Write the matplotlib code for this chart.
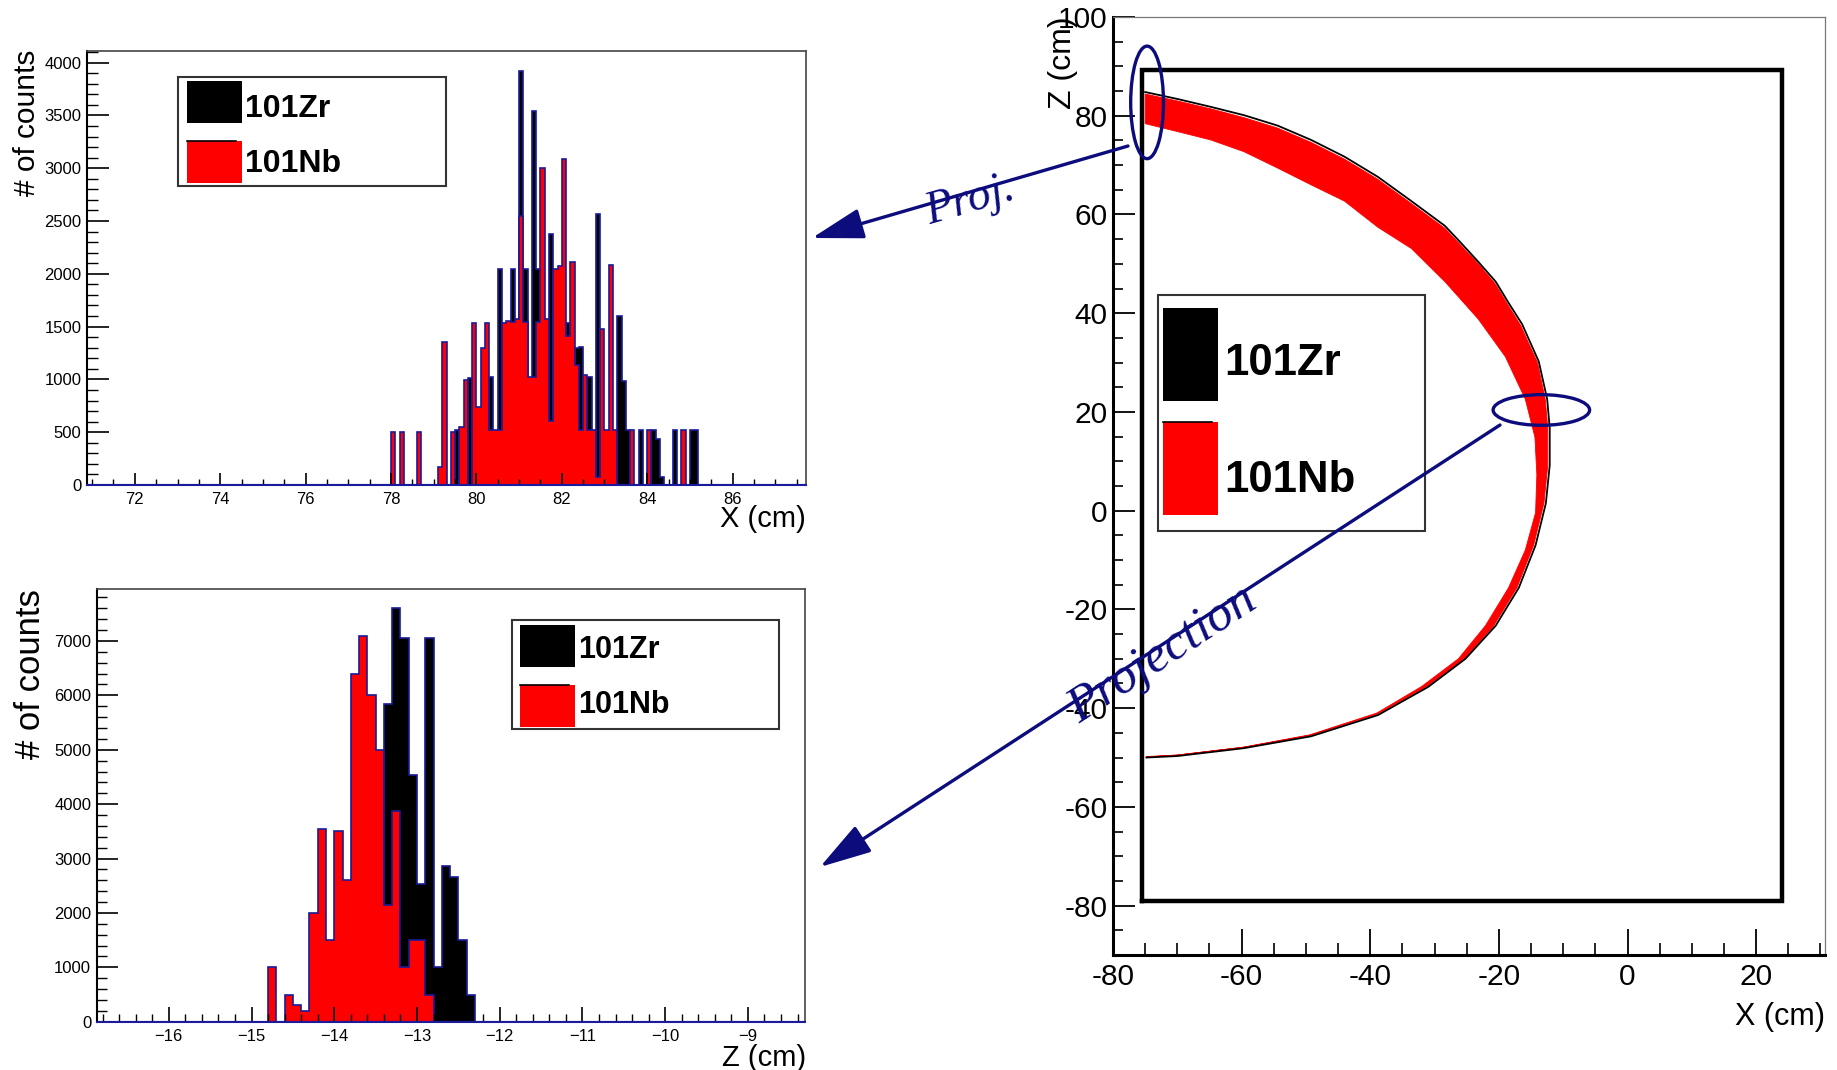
import numpy as np
import matplotlib
matplotlib.use("Agg")
import matplotlib.pyplot as plt
from matplotlib.patches import Rectangle, Ellipse, FancyArrowPatch
from matplotlib.ticker import MultipleLocator

# ---------------- data ----------------
series_names = ["101Zr", "101Nb"]

# projection on X (cm): 0.1 cm bins, first bin starts at 78.0
projx_first_bin = 78.0
projx_bin_width = 0.1
projx_zr = [0, 0, 0, 0, 0, 0, 0, 0, 0, 0,
            0, 0, 0, 0, 0, 520, 0, 0, 1015, 0,
            0, 0, 0, 1025, 0, 2050, 0, 0, 2045, 0,
            3925, 2050, 0, 3545, 2050, 0, 0, 2375, 0, 0,
            0, 1530, 0, 1300, 1310, 0, 1025, 0, 2565, 0,
            0, 0, 0, 1605, 985, 520, 0, 0, 520, 0,
            0, 520, 440, 80, 0, 0, 520, 0, 0, 0,
            520, 525]
projx_nb = [500, 0, 500, 0, 0, 0, 500, 0, 0, 0,
            0, 170, 1350, 0, 500, 0, 545, 995, 0, 1535,
            740, 1295, 1535, 520, 520, 520, 1535, 1550, 1545, 1575,
            2550, 1545, 1025, 1025, 1545, 3005, 1575, 610, 2050, 2075,
            3090, 1415, 2115, 1135, 520, 1040, 520, 520, 75, 1475,
            520, 2085, 520, 0, 0, 0, 520, 0, 0, 0,
            520, 0, 0, 0, 0, 0, 0, 0, 520, 0,
            0, 0]

# projection on Z (cm): 0.1 cm bins, first bin starts at -14.8
projz_first_bin = -14.8
projz_bin_width = 0.1
projz_zr = [0, 0, 0, 0, 0, 0, 0, 0, 0, 0,
            0, 0, 0, 0, 5850, 7600, 7050, 4540, 2530, 7050,
            1000, 2860, 2660, 1500, 500]
projz_nb = [1000, 0, 500, 300, 200, 2000, 3550, 1500, 3500, 2600,
            6400, 7100, 6000, 5000, 2150, 3870, 1000, 1500, 1500, 500,
            0, 0, 0, 0, 0]

# X-Z hit map: outer edge of the 101Zr band (top to bottom)
zr_edge_x = [-75.0, -70.0, -64.8, -59.6, -54.4, -49.2, -44.0, -38.8, -33.6, -28.4,
             -25.8, -23.2, -20.5, -18.5, -16.4, -15.1, -13.8, -12.5, -12.1, -12.1,
             -12.7, -14.3, -16.9, -20.5, -25.2, -31.0, -38.8, -49.2, -59.6, -70.0, -74.8]
zr_edge_z = [84.8, 83.4, 81.8, 80.1, 78.0, 75.1, 71.7, 67.6, 62.7, 57.7,
             54.1, 50.4, 46.4, 42.1, 37.8, 34.0, 30.2, 22.6, 16.8, 9.2,
             1.5, -7.0, -15.6, -23.3, -30.0, -35.7, -41.4, -45.7, -48.1, -49.7, -50.0]
# 101Nb band: outer and inner edges (top to bottom)
nb_outer_x = [-75.0, -70.0, -64.8, -59.6, -54.4, -49.2, -44.0, -38.8, -33.6, -28.4,
              -25.8, -23.2, -20.6, -18.6, -16.6, -15.3, -14.0, -12.8, -12.4, -12.4,
              -13.0, -14.6, -17.2, -20.8, -25.4, -31.2, -38.9, -49.3, -59.6, -70.0, -74.8]
nb_outer_z = [84.4, 83.0, 81.4, 79.6, 77.5, 74.6, 71.2, 67.1, 62.2, 57.2,
              53.6, 50.0, 46.0, 41.7, 37.5, 33.7, 30.0, 22.6, 16.8, 9.2,
              1.5, -7.0, -15.6, -23.3, -30.0, -35.6, -41.2, -45.5, -47.9, -49.5, -49.9]
nb_inner_x = [-75.0, -70.0, -64.8, -59.6, -54.4, -49.2, -44.0, -38.8, -33.6, -28.4,
              -23.2, -19.0, -15.9, -14.4, -14.1, -14.3, -15.9, -18.5, -22.1, -26.3,
              -32.0, -39.0, -49.4, -59.7, -70.0, -74.8]
nb_inner_z = [78.4, 76.8, 75.1, 72.7, 69.4, 66.0, 62.7, 57.4, 53.1, 46.4,
              38.8, 31.2, 22.6, 14.9, 7.3, -0.4, -8.0, -15.6, -23.3, -30.0,
              -35.6, -41.0, -45.4, -47.9, -49.5, -49.8]

# detector frame (cm)
det_x = [-75.5, 24.0]
det_z = [-79.0, 89.3]

hist_x_ticks = [72, 74, 76, 78, 80, 82, 84, 86]
hist_z_ticks = [-16, -15, -14, -13, -12, -11, -10, -9]
map_x_ticks = [-80, -60, -40, -20, 0, 20]
map_z_ticks = [-80, -60, -40, -20, 0, 20, 40, 60, 80, 100]

# ---------------- style ----------------
W, H, DPI = 1837, 1070, 100
SANS = ['Liberation Sans', 'DejaVu Sans']
SERIF = ['Liberation Serif', 'DejaVu Serif']
plt.rcParams['font.family'] = SANS
NAVY = '#1a1a9a'
ARROW = '#0c0c7c'

fig = plt.figure(figsize=(W / DPI, H / DPI), dpi=DPI)


def px_rect(x0, y0, x1, y1):
    return [x0 / W, 1 - y1 / H, (x1 - x0) / W, (y1 - y0) / H]


def fx(x):
    return x / W


def fy(y):
    return 1 - y / H


def hist_axes(rect, xlim, ylim, xmaj, xmin, ymaj, ymin, ymaj_len, xmaj_len):
    ax = fig.add_axes(rect)
    ax.set_xlim(*xlim)
    ax.set_ylim(*ylim)
    ax.xaxis.set_major_locator(MultipleLocator(xmaj))
    ax.xaxis.set_minor_locator(MultipleLocator(xmin))
    ax.yaxis.set_major_locator(MultipleLocator(ymaj))
    ax.yaxis.set_minor_locator(MultipleLocator(ymin))
    ax.tick_params(axis='y', which='major', direction='in', length=ymaj_len, width=1.2,
                   labelsize=12, pad=4)
    ax.tick_params(axis='y', which='minor', direction='in', length=ymaj_len * 0.5, width=1.0)
    ax.tick_params(axis='x', which='major', direction='in', length=xmaj_len, width=1.2,
                   labelsize=12, pad=5)
    ax.tick_params(axis='x', which='minor', direction='in', length=xmaj_len * 0.5, width=1.0)
    for s in ('top', 'right'):
        ax.spines[s].set_color('#444444')
        ax.spines[s].set_linewidth(1.2)
    ax.spines['left'].set_linewidth(1.5)
    ax.spines['bottom'].set_color(NAVY)
    ax.spines['bottom'].set_linewidth(1.5)
    return ax


def draw_hist(ax, first, width, zr, nb):
    edges = first + width * np.arange(len(zr) + 1)
    ax.stairs(zr, edges, fill=True, color='black', lw=0)
    ax.stairs(zr, edges, color=NAVY, lw=1.2)
    ax.stairs(nb, edges, fill=True, color='red', lw=0)
    ax.stairs(nb, edges, color=NAVY, lw=1.2)
    ax.axhline(0, color=NAVY, lw=1.5)


def legend_box(box, sw1, sw2, t1y, t2y, tx, size):
    fig.add_artist(Rectangle((fx(box[0]), fy(box[3])), (box[2] - box[0]) / W,
                             (box[3] - box[1]) / H, transform=fig.transFigure,
                             facecolor='white', edgecolor='#333333', lw=1.5))
    for sw, col in ((sw1, 'black'), (sw2, 'red')):
        fig.add_artist(Rectangle((fx(sw[0]), fy(sw[3])), (sw[2] - sw[0]) / W,
                                 (sw[3] - sw[1]) / H, transform=fig.transFigure,
                                 facecolor=col, edgecolor='none'))
    fig.add_artist(plt.Line2D([fx(sw2[0]), fx(sw2[2] - 6)], [fy(sw2[1]), fy(sw2[1])],
                              transform=fig.transFigure, color='black', lw=1.2))
    fig.text(fx(tx), fy(t1y), series_names[0], fontsize=size, fontweight='bold',
             va='baseline', ha='left')
    fig.text(fx(tx), fy(t2y), series_names[1], fontsize=size, fontweight='bold',
             va='baseline', ha='left')


# ---------------- top-left: X projection ----------------
ax1 = hist_axes(px_rect(87, 50.7, 806, 485), (70.88, 87.72), (0, 4113),
                2, 0.5, 500, 100, 15.5, 8.5)
ax1.set_xticks(hist_x_ticks)
draw_hist(ax1, projx_first_bin, projx_bin_width, projx_zr, projx_nb)
fig.text(fx(27), fy(50), '# of counts', rotation=90, fontsize=21.5, ha='center', va='top')
fig.text(fx(806), fy(519), 'X (cm)', fontsize=21, ha='right', va='center')
legend_box((178, 77, 446, 186), (187, 81, 242, 123), (187, 141, 242, 183),
           117, 172, 245, 23)

# ---------------- bottom-left: Z projection ----------------
ax2 = hist_axes(px_rect(96.8, 589.3, 805, 1021.7), (-16.87, -8.31), (0, 7950),
                1, 0.2, 1000, 200, 15, 11)
ax2.set_xticks(hist_z_ticks)
draw_hist(ax2, projz_first_bin, projz_bin_width, projz_zr, projz_nb)
fig.text(fx(30), fy(589), '# of counts', rotation=90, fontsize=25, ha='center', va='top')
fig.text(fx(806), fy(1058), 'Z (cm)', fontsize=21, ha='right', va='center')
legend_box((512, 620, 779, 729), (520, 625, 575, 667), (520, 685, 575, 727),
           658, 713, 578, 22)

# ---------------- right: X-Z map ----------------
ax3 = fig.add_axes(px_rect(1113, 17, 1825, 955))
ax3.set_xlim(-80, 30.7)
ax3.set_ylim(-90, 100)
ax3.set_xticks(map_x_ticks, [str(v) for v in map_x_ticks], fontsize=21.5)
ax3.set_yticks(map_z_ticks, [str(v) for v in map_z_ticks], fontsize=21.5)
ax3.xaxis.set_minor_locator(MultipleLocator(5))
ax3.yaxis.set_minor_locator(MultipleLocator(5))
ax3.tick_params(axis='y', which='major', direction='in', length=16, width=1.3, pad=4)
ax3.tick_params(axis='y', which='minor', direction='in', length=7.5, width=1.2)
ax3.tick_params(axis='x', which='major', direction='in', length=19, width=1.3, pad=6)
ax3.tick_params(axis='x', which='minor', direction='in', length=9, width=1.2)
for s in ('top', 'right'):
    ax3.spines[s].set_color('#777777')
    ax3.spines[s].set_linewidth(0.9)
for s in ('left', 'bottom'):
    ax3.spines[s].set_linewidth(2.2)

ax3.plot(zr_edge_x, zr_edge_z, color='black', lw=1.3)
ax3.fill(np.r_[nb_outer_x, nb_inner_x[::-1]], np.r_[nb_outer_z, nb_inner_z[::-1]],
         color='red', lw=0.6, edgecolor='red')
ax3.plot([det_x[0], det_x[0], det_x[1], det_x[1], det_x[0]],
         [det_z[0], det_z[1], det_z[1], det_z[0], det_z[0]], color='black', lw=3.2,
         solid_joinstyle='miter')

ax3.add_patch(Ellipse((-74.7, 82.7), 5.1, 22.8, fill=False, edgecolor=ARROW, lw=2.4,
                      clip_on=False, zorder=5))
ax3.add_patch(Ellipse((-13.4, 20.4), 15.0, 6.2, fill=False, edgecolor=ARROW, lw=2.4,
                      clip_on=False, zorder=5))

fig.text(fx(1063), fy(16), 'Z (cm)', rotation=90, fontsize=23, ha='center', va='top')
fig.text(fx(1825), fy(1017), 'X (cm)', fontsize=22, ha='right', va='center')
legend_box((1157.5, 295, 1424.6, 531), (1163, 308, 1218, 401), (1163, 422, 1218, 515),
           375, 492, 1224, 31.5)

# ---------------- projection arrows ----------------
for (x0, y0), (x1, y1) in (((1128, 146), (812, 238)), ((1500, 425), (820, 867))):
    fig.add_artist(FancyArrowPatch((fx(x0), fy(y0)), (fx(x1), fy(y1)),
                                   transform=fig.transFigure,
                                   arrowstyle='-|>,head_length=3.2,head_width=0.95',
                                   mutation_scale=10, color=ARROW, lw=2.4,
                                   shrinkA=0, shrinkB=0))
fig.text(fx(973), fy(212), 'Proj.', rotation=16.2, rotation_mode='anchor', ha='center',
         va='baseline', fontsize=33, style='italic', family=SERIF, color=ARROW)
fig.text(fx(1169), fy(665), 'Projection', rotation=33.1, rotation_mode='anchor',
         ha='center', va='baseline', fontsize=37, style='italic', family=SERIF, color=ARROW)

fig.savefig('out.png', dpi=DPI)
